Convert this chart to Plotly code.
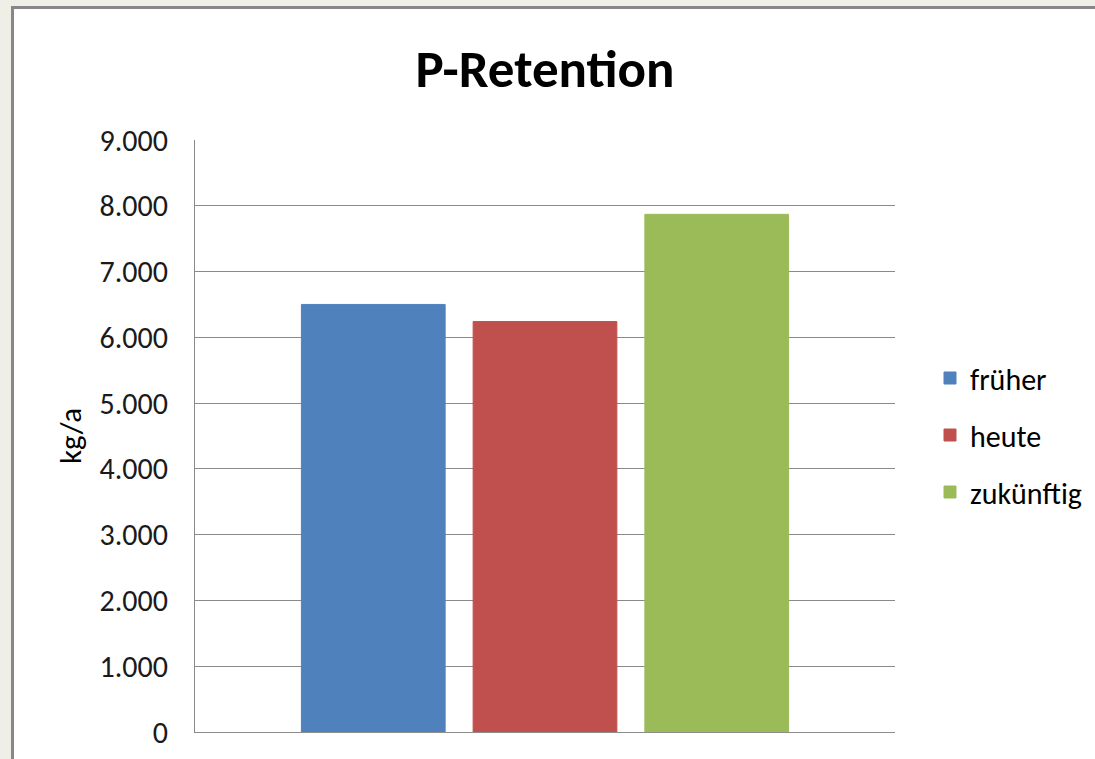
import plotly.graph_objects as go

# Data
series_names = ["früher", "heute", "zukünftig"]
series_values = [6500, 6240, 7870]
series_colors = ["#4f81bd", "#c0504d", "#9bbb59"]
category = ["P-Retention"]
title_text = "P-Retention"
y_title = "kg/a"
y_ticks = [0, 1000, 2000, 3000, 4000, 5000, 6000, 7000, 8000, 9000]

FONT = "Carlito, Lato, 'Liberation Sans', sans-serif"

fig = go.Figure()
for name, val, col in zip(series_names, series_values, series_colors):
    fig.add_trace(go.Bar(
        x=category, y=[val], name=name,
        marker=dict(color=col, line=dict(color=col, width=1)),
        legendgroup=name,
    ))

W, H = 1095, 759
L, R, T, B = 195, 200, 140, 27
pw, ph = W - L - R, H - T - B

def px_x(p):
    return (p - L) / pw

def px_y(p):
    return (H - B - p) / ph

BEIGE = "#f0efe7"
border = dict(color="#878787", width=3)
fig.update_layout(
    width=W, height=H,
    margin=dict(l=L, r=R, t=T, b=B, autoexpand=False),
    paper_bgcolor="#ffffff",
    plot_bgcolor="#ffffff",
    separators=",.",
    barmode="group",
    bargap=0.264,
    bargroupgap=0.163,
    font=dict(family=FONT, color="#000000", size=30),
    title=dict(text="<b>" + title_text + "</b>", x=0.5, xanchor="center",
               xref="paper", y=1 - 68 / H, yanchor="middle",
               font=dict(family=FONT, size=53, color="#000000")),
    xaxis=dict(showticklabels=False, showgrid=False, showline=True,
               linecolor="#8c8c8c", linewidth=1, ticks="", zeroline=False),
    yaxis=dict(range=[0, 9000], tickvals=y_ticks, tickformat=",d",
               showgrid=True, gridcolor="#8a8a8a", gridwidth=1.3,
               showline=True, linecolor="#8a8a8a", linewidth=1.3,
               zeroline=False, ticks="", ticklabelstandoff=20,
               tickfont=dict(family=FONT, size=30, color="#1a1a1a"),
               title=dict(text=y_title, standoff=8,
                          font=dict(family=FONT, size=31, color="#000000"))),
    legend=dict(x=px_x(930), xanchor="left", y=px_y(435), yanchor="middle",
                bgcolor="rgba(0,0,0,0)", font=dict(family=FONT, size=30, color="#000000"),
                tracegroupgap=15, traceorder="grouped", itemwidth=30),
    showlegend=True,
    shapes=[
        dict(type="rect", xref="paper", yref="paper", layer="below",
             x0=px_x(-5), x1=px_x(1100), y0=px_y(-5), y1=px_y(6),
             fillcolor=BEIGE, line=dict(width=0)),
        dict(type="rect", xref="paper", yref="paper", layer="below",
             x0=px_x(-5), x1=px_x(11), y0=px_y(-5), y1=px_y(770),
             fillcolor=BEIGE, line=dict(width=0)),
        dict(type="line", xref="paper", yref="paper", layer="below",
             x0=px_x(11), x1=px_x(1100), y0=px_y(7.5), y1=px_y(7.5), line=border),
        dict(type="line", xref="paper", yref="paper", layer="below",
             x0=px_x(12.5), x1=px_x(12.5), y0=px_y(6), y1=px_y(770), line=border),
    ],
)

fig.write_html("out.html", config={"displayModeBar": False},
               post_script="document.body.style.margin='0';document.body.style.overflow='hidden';document.documentElement.style.overflow='hidden';")
